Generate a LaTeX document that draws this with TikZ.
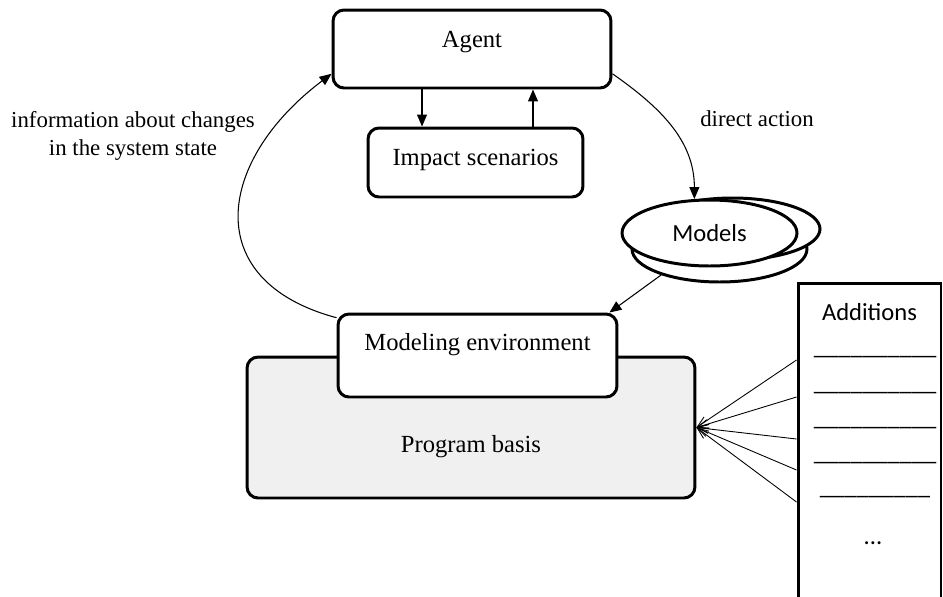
\documentclass[tikz,border=0pt]{standalone}
\usepackage{fontspec}
\setmainfont{Liberation Serif}
\newfontfamily\calibri{Carlito}
\usetikzlibrary{arrows.meta,shapes.geometric,calc}
\tikzset{
	box/.style={draw,rounded corners=0.22cm,line width=1.7pt,inner sep=0pt,fill=white,font=\fontsize{14}{16}\selectfont},
	model/.style={draw,ellipse,line width=1.7pt,fill=white,inner sep=0pt,minimum width=3.5cm},
	conn/.style={line width=0.6pt,-{Triangle[length=0.24cm,width=0.2cm]}},
	feed/.style={line width=0.5pt,-{Straight Barb[length=0.22cm,width=0.18cm]}},
	lbl/.style={font=\fontsize{13}{16}\selectfont,align=center},
	sans/.style={font=\calibri\fontsize{14}{16}\selectfont}
}
\begin{document}
\begin{tikzpicture}[x=0.02cm,y=-0.02cm]
			\useasboundingbox (0,0) rectangle (943,596);
			\node at (472,49) (agent) [box,minimum width=5.56cm,text height=0.74cm,text depth=0.82cm] {Agent};
			\node at (475.5,162.5) (impact) [box,minimum width=4.3cm,text height=0.74cm,text depth=0.64cm] {Impact scenarios};
			\node at (471,427.5) (basis) [box,fill=black!6,minimum width=8.96cm,text height=1.9cm,text depth=0.92cm] {Program basis};
			\node at (477.5,355.5) (modenv) [box,minimum width=5.58cm,text height=0.72cm,text depth=0.94cm] {Modeling environment};
			\node at (719.5,249) (models3) [model,minimum height=1.32cm] {};
			\node at (732.5,229) (models2) [model,minimum height=1.24cm] {};
			\node at (709.5,233) (models) [model,sans,minimum height=1.32cm] {Models};
			\node at (869.5,441.5) (additions) [box,sans,rounded corners=0pt,minimum width=2.86cm,text height=0.74cm,text depth=5.6cm] {Additions};
			\foreach \y in {356,392,427,462}
				\node at (875,\y) [sans,inner sep=0pt] {\_\_\_\_\_\_\_\_\_\_};
			\node at (875,496) (last) [sans,inner sep=0pt] {\_\_\_\_\_\_\_\_\_};
			\node at (873,543) (dots) [sans] {...};
			\node at (133,136) (info) [lbl] {information about changes\\in the system state};
			\node at (757,119) (direct) [lbl] {direct action};
			\draw[conn] (agent.south -| 422,0)--(impact.north -| 422,0);
			\draw[conn] (impact.north -| 533,0)--(agent.south -| 533,0);
			\draw[conn] (agent.350) to[out=-35,in=90] (models.114);
			\draw[conn] (models3.204)--($(modenv.north east)+(-9,0)$);
			\draw[conn] (modenv.165) to[out=165,in=217,looseness=1.5] (agent.190);
			\foreach \y in {360,397,439,470,502}
				\draw[feed] (additions.west |- 0,\y)--(basis.east);
		\end{tikzpicture}
\end{document}
